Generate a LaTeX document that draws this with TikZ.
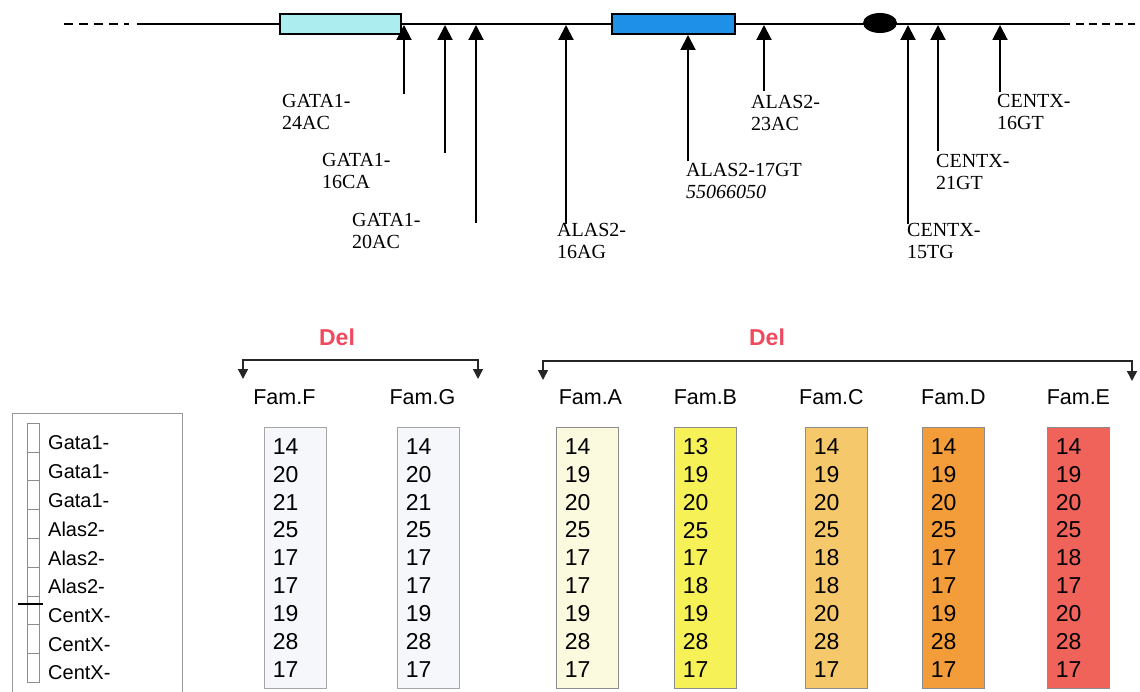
\documentclass[tikz,border=0pt]{standalone}
\usepackage{fontspec}
\setmainfont{Liberation Serif}
\setsansfont{Liberation Sans}
\usetikzlibrary{arrows.meta, positioning, shapes.geometric}
\definecolor{gatacyan}{RGB}{172,238,240}
\definecolor{alasblue}{RGB}{30,144,232}
\definecolor{delred}{RGB}{240,72,92}
\definecolor{famgray}{RGB}{245,247,251}
\definecolor{famA}{RGB}{251,249,222}
\definecolor{famB}{RGB}{247,241,88}
\definecolor{famC}{RGB}{246,200,108}
\definecolor{famD}{RGB}{243,156,58}
\definecolor{famE}{RGB}{239,99,90}

\begin{document}
\begin{tikzpicture}[x=1pt, y=-1pt,
    marker/.style={draw=black, line width=2pt, -{Triangle[length=15pt,width=15pt]}},
    locus/.style={anchor=north west, inner sep=0pt, align=left, font=\fontsize{20}{22}\selectfont},
    fambox/.style={draw=black!45, line width=0.8pt, anchor=north west, text width=45pt, inner xsep=8.5pt,
                   minimum height=261pt, align=left, font=\sffamily\fontsize{23}{27.9}\selectfont},
    famlabel/.style={inner sep=0pt, font=\sffamily\fontsize{21.5}{24}\selectfont},
    deltext/.style={text=delred, font=\sffamily\bfseries\fontsize{23}{26}\selectfont},
    delbrace/.style={draw=black!85, line width=1.5pt, {Triangle[length=10pt,width=10pt]}-{Triangle[length=10pt,width=10pt]}}]
    \useasboundingbox (0,0) rectangle (1140,692);

    % chromosome line
    \draw[line width=2pt, dash pattern=on 9pt off 6pt] (64,24) -- (129,24);
    \draw[line width=2pt] (137,24) -- (1070,24);
    \draw[line width=2pt, dash pattern=on 8pt off 5pt] (1076,24) -- (1135,24);
    \node[draw, line width=1.8pt, fill=gatacyan, minimum width=121pt, minimum height=20pt, inner sep=0pt] (gata) at (340.5,24) {};
    \node[draw, line width=1.8pt, fill=alasblue, minimum width=123pt, minimum height=20pt, inner sep=0pt] (alas) at (673.5,24) {};
    \node[ellipse, fill=black, minimum width=34pt, minimum height=20pt, inner sep=0pt] (centro) at (880,23) {};

    % markers
    \foreach \lx/\ly/\tip/\tx/\ty/\txt [count=\i] in {
        404/94/25/282/94/{GATA1-\\24AC},
        445/153/25/322/153/{GATA1-\\16CA},
        476/223/25/352/213/{GATA1-\\20AC},
        566/224/25/557/223/{ALAS2-\\16AG},
        688/161/35/686/163/{ALAS2-17GT\\\textit{55066050}},
        764/91/25/751/95/{ALAS2-\\23AC},
        908/224/25/907/223/{CENTX-\\15TG},
        938/151/25/936/154/{CENTX-\\21GT},
        1000/92/25/997/94/{CENTX-\\16GT}} {
        \node[locus] (loc\i) at (\tx,\ty) {\txt};
        \coordinate (foot\i) at (\lx,\ly);
        \coordinate (head\i) at (\lx,\tip);
        \draw[marker] (foot\i) -- (head\i);
    }

    % deletions
    \node[deltext] (delFG) at (337,337) {Del};
    \node[deltext] (delAE) at (767,337) {Del};
    \coordinate (delFGl) at (243,379);
    \coordinate (delFGr) at (478,379);
    \coordinate (delAEl) at (543,380);
    \coordinate (delAEr) at (1132,381);
    \draw[delbrace] (delFGl) |- (360.5,360) -| (delFGr);
    \draw[delbrace] (delAEl) |- (837.5,361) -| (delAEr);

    % families
    \node[fambox, fill=famgray, draw=black!35] (boxF) at (264,427) {14\\20\\21\\25\\17\\17\\19\\28\\17};
    \node[fambox, fill=famgray, draw=black!35] (boxG) at (397,427) {14\\20\\21\\25\\17\\17\\19\\28\\17};
    \node[fambox, fill=famA] (boxA) at (556,427) {14\\19\\20\\25\\17\\17\\19\\28\\17};
    \node[fambox, fill=famB] (boxB) at (674,427) {13\\19\\20\\25\\17\\18\\19\\28\\17};
    \node[fambox, fill=famC] (boxC) at (805,427) {14\\19\\20\\25\\18\\18\\20\\28\\17};
    \node[fambox, fill=famD] (boxD) at (922,427) {14\\19\\20\\25\\17\\17\\19\\28\\17};
    \node[fambox, fill=famE] (boxE) at (1047,427) {14\\19\\20\\25\\18\\17\\20\\28\\17};
    \node[famlabel, above=22pt of boxF.north, xshift=-11pt] (famF) {Fam.F};
    \node[famlabel, above=22pt of boxG.north, xshift=-6pt] (famG) {Fam.G};
    \node[famlabel, above=22pt of boxA.north, xshift=3pt] (famA) {Fam.A};
    \node[famlabel, above=22pt of boxB.north] (famB) {Fam.B};
    \node[famlabel, above=22pt of boxC.north, xshift=-5pt] (famC) {Fam.C};
    \node[famlabel, above=22pt of boxD.north] (famD) {Fam.D};
    \node[famlabel, above=22pt of boxE.north] (famE) {Fam.E};

    % legend
    \draw[black!40, line width=0.8pt] (12,700) |- (182,413) -- (182,700);
    \foreach \lab [count=\i from 0] in {Gata1-,Gata1-,Gata1-,Alas2-,Alas2-,Alas2-,CentX-,CentX-,CentX-} {
        \draw[black!45, line width=0.6pt] (27,423+28.8*\i) rectangle ++(12,28.8);
        \node[anchor=west, inner sep=0pt, font=\sffamily\fontsize{20}{22}\selectfont] (leg\i) at (48,443+28.75*\i) {\lab};
    }
    \draw[line width=2.2pt] (18,604) -- (43,604);
\end{tikzpicture}
\end{document}
